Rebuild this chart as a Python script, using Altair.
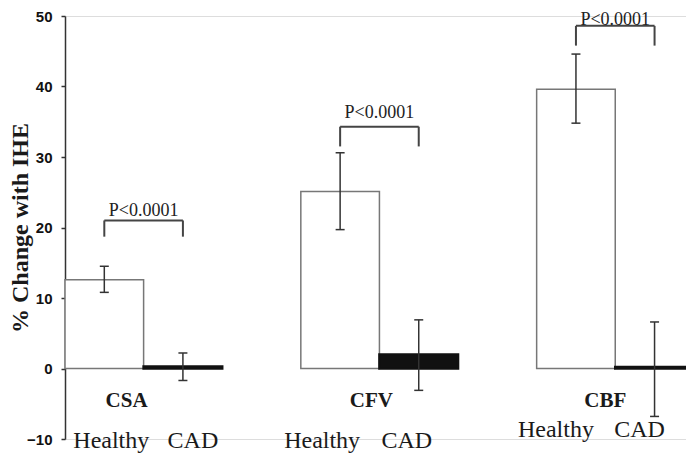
import altair as alt
import pandas as pd

# ---- data ----
groups = ["CSA", "CFV", "CBF"]
healthy_mean = [12.6, 25.1, 39.6]
healthy_lo = [10.8, 19.7, 34.8]
healthy_hi = [14.5, 30.6, 44.6]
cad_mean = [0.3, 2.0, 0.2]
cad_lo = [-1.7, -3.1, -6.8]
cad_hi = [2.2, 6.9, 6.6]
p_labels = ["P<0.0001", "P<0.0001", "P<0.0001"]
bracket_top = [21.0, 34.3, 48.6]
bracket_leg = [18.7, 31.5, 45.8]
p_label_y = [21.6, 35.5, 48.75]
y_ticks = [-10, 0, 10, 20, 30, 40, 50]
sub_labels = ["Healthy", "CAD"]
y_title = "% Change with IHE"

# label placement offsets (pixels, relative to bar / group centres)
g_dx = [-17, -8, -10]
h_dx = [7, -18, -20]
c_dx = [10, -12, -15]
s_dy = [9, 9, -2]

SERIF = "Liberation Serif, Times New Roman, Times, serif"

W, H = 621, 423
XMAX = 7.9
PX = W / XMAX   # pixels per slot

# ---- tables ----
rows_h, rows_c, groups_rows, lab_rows = [], [], [], []
for i, g in enumerate(groups):
    hs = 3 * i          # slot of healthy bar
    cs = 3 * i + 1      # slot of CAD bar
    rows_h.append(dict(group=g, x0=hs, x1=hs + 1, cx=hs + 0.5,
                       mean=healthy_mean[i], lo=healthy_lo[i], hi=healthy_hi[i]))
    rows_c.append(dict(group=g, x0=cs, x1=cs + 1, cx=cs + 0.5,
                       mean=cad_mean[i], lo=cad_lo[i], hi=cad_hi[i]))
    groups_rows.append(dict(group=g, hx=hs + 0.5, cx=cs + 0.5, mid=hs + 1.0,
                            gx=hs + 1.0 + g_dx[i] / PX,
                            top=bracket_top[i], leg=bracket_leg[i],
                            p=p_labels[i], py=p_label_y[i]))
    lab_rows.append(dict(t=sub_labels[0], x=hs + 0.5 + h_dx[i] / PX, dy=s_dy[i]))
    lab_rows.append(dict(t=sub_labels[1], x=cs + 0.5 + c_dx[i] / PX, dy=s_dy[i]))
dh = pd.DataFrame(rows_h)
dc = pd.DataFrame(rows_c)
dg = pd.DataFrame(groups_rows)
dl = pd.DataFrame(lab_rows)
dbar = pd.concat([dh, dc], ignore_index=True)

xs = alt.Scale(domain=[0, XMAX], nice=False, zero=False)
ys = alt.Scale(domain=[-10, 50], nice=False, zero=False)
X = lambda f: alt.X(f, type="quantitative", scale=xs, axis=None)

yaxis = alt.Axis(values=y_ticks, grid=False, domainColor="#333", domainWidth=1.5,
                 tickColor="#333", tickWidth=1.5, tickSize=4,
                 labelFont="Liberation Sans", labelFontWeight="bold", labelFontSize=15,
                 labelColor="#111", labelPadding=9,
                 title=y_title, titleFont=SERIF, titleFontSize=24,
                 titleFontWeight="bold", titleColor="#1a1a1a",
                 titleX=-45, titleY=H / 2, titleBaseline="middle", titleAlign="center")

bars_h = alt.Chart(dh).mark_rect(fill="#ffffff", stroke="#777", strokeWidth=1.5).encode(
    x=X("x0"), x2="x1",
    y=alt.Y("mean:Q", scale=ys, axis=yaxis), y2=alt.datum(0))
bars_c = alt.Chart(dc).mark_rect(fill="#111", stroke="#111", strokeWidth=2.5, clip=True).encode(
    x=X("x0"), x2="x1", y=alt.Y("mean:Q", scale=ys), y2=alt.datum(0))

eb = alt.Chart(dbar)
err_line = eb.mark_rule(color="#333", strokeWidth=1.5).encode(
    x=X("cx"), y=alt.Y("lo:Q", scale=ys), y2="hi:Q")
cap_hi = eb.mark_rule(color="#333", strokeWidth=1.5, xOffset=-4.5, x2Offset=4.5).encode(
    x=X("cx"), x2="cx:Q", y=alt.Y("hi:Q", scale=ys))
cap_lo = eb.mark_rule(color="#333", strokeWidth=1.5, xOffset=-4.5, x2Offset=4.5).encode(
    x=X("cx"), x2="cx:Q", y=alt.Y("lo:Q", scale=ys))

bg = alt.Chart(dg)
br_top = bg.mark_rule(color="#444", strokeWidth=2).encode(
    x=X("hx"), x2="cx:Q", y=alt.Y("top:Q", scale=ys))
br_l = bg.mark_rule(color="#444", strokeWidth=2).encode(
    x=X("hx"), y=alt.Y("leg:Q", scale=ys), y2="top:Q")
br_r = bg.mark_rule(color="#444", strokeWidth=2).encode(
    x=X("cx"), y=alt.Y("leg:Q", scale=ys), y2="top:Q")
p_txt = bg.mark_text(font=SERIF, fontSize=18, color="#222",
                     baseline="alphabetic", align="center").encode(
    x=X("mid"), y=alt.Y("py:Q", scale=ys), text="p:N")

g_txt = bg.mark_text(font=SERIF, fontSize=21, fontWeight="bold", color="#1a1a1a",
                     baseline="alphabetic", align="center").encode(
    x=X("gx"), y=alt.datum(-5.5), text="group:N")

sub_txt = alt.Chart(dl).mark_text(font=SERIF, fontSize=24, color="#1a1a1a",
                                  baseline="alphabetic", align="center").encode(
    x=X("x"), y=alt.datum(-10), text="t:N",
    yOffset=alt.YOffset("dy:Q", scale=None))

chart = alt.layer(bars_h, bars_c, err_line, cap_hi, cap_lo, br_top, br_l, br_r,
                  p_txt, g_txt, sub_txt).properties(
    width=W, height=H,
    autosize=alt.AutoSizeParams(type="none"),
    padding={"left": 57, "top": 8, "right": 0, "bottom": 14},
).configure_view(stroke=None).configure(background="white")

chart.save("out.html", embed_options={"renderer": "svg", "actions": False})
